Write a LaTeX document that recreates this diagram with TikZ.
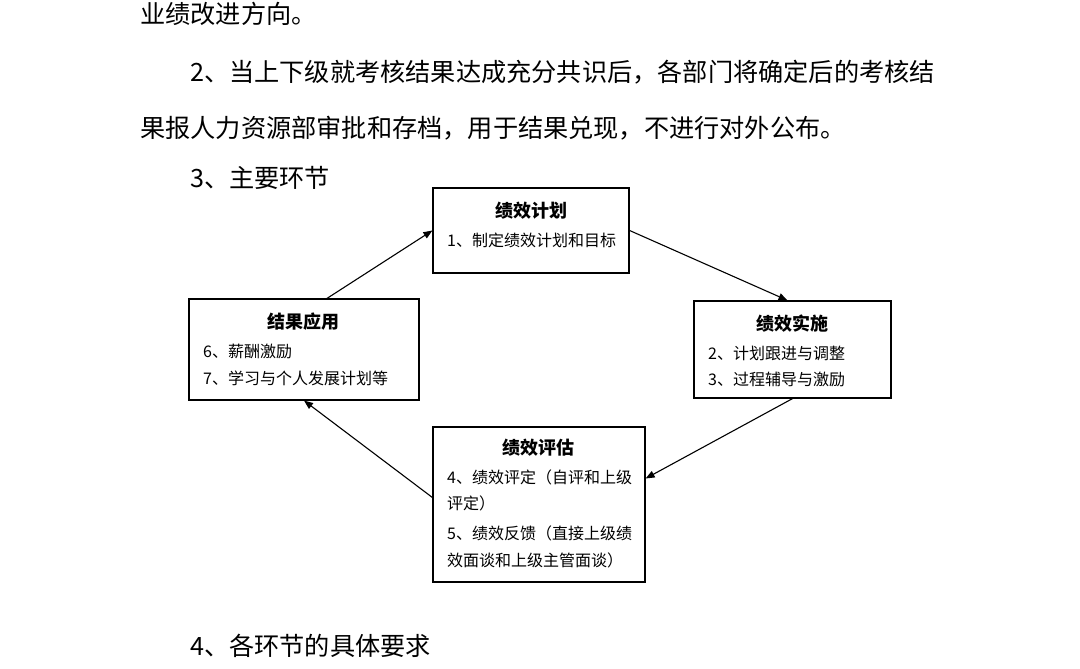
\documentclass[tikz,border=0pt]{standalone}
\usepackage{fontspec}
\setmainfont{Noto Sans CJK SC}
\usepackage{tikz}
\usetikzlibrary{arrows.meta}
\tikzset{
  bodytext/.style={anchor=west,inner sep=0pt,font=\fontsize{25.2}{30}\selectfont},
  stagebox/.style={draw,line width=1.2pt,inner sep=0pt},
  stagetitle/.style={inner sep=0pt,font=\fontsize{18}{22}\selectfont\bfseries},
  stageitem/.style={anchor=west,inner sep=0pt,font=\fontsize{16}{20}\selectfont},
  cyclearrow/.style={-{Triangle[length=9pt,width=7pt]},line width=1.1pt}
}

\begin{document}
\begin{tikzpicture}[x=1pt,y=-1pt]
  \fill[white] (0,0) rectangle (1080,669);
  \useasboundingbox (0,0) rectangle (1080,669);
  % running text around the cycle
  \node[bodytext] (para1) at (140,14) {业绩改进方向。};
  \node[bodytext] (para2) at (190,72) {2、当上下级就考核结果达成充分共识后，各部门将确定后的考核结};
  \node[bodytext] (para3) at (140,128) {果报人力资源部审批和存档，用于结果兑现，不进行对外公布。};
  \node[bodytext] (head3) at (190,178) {3、主要环节};
  \node[bodytext] (head4) at (190,646) {4、各环节的具体要求};

  % four stages
  \node[stagebox,minimum width=196pt,minimum height=85pt] (plan) at (531,230.5) {};
  \node[stagebox,minimum width=230pt,minimum height=101pt] (apply) at (304,349.5) {};
  \node[stagebox,minimum width=197pt,minimum height=97pt] (impl) at (792.5,349.5) {};
  \node[stagebox,minimum width=212pt,minimum height=155pt] (eval) at (539,504.5) {};

  \node[stagetitle] (plant) at (531,211) {绩效计划};
  \node[stageitem] (plan1) at (447,240) {1、制定绩效计划和目标};

  \node[stagetitle] (applyt) at (303,322) {结果应用};
  \node[stageitem] (apply1) at (203,351) {6、薪酬激励};
  \node[stageitem] (apply2) at (203,378) {7、学习与个人发展计划等};

  \node[stagetitle] (implt) at (792,324) {绩效实施};
  \node[stageitem] (impl1) at (708,353) {2、计划跟进与调整};
  \node[stageitem] (impl2) at (708,379) {3、过程辅导与激励};

  \node[stagetitle] (evalt) at (538,448) {绩效评估};
  \node[stageitem] (eval1) at (447,477) {4、绩效评定（自评和上级};
  \node[stageitem] (eval2) at (447,503) {评定）};
  \node[stageitem] (eval3) at (447,533) {5、绩效反馈（直接上级绩};
  \node[stageitem] (eval4) at (447,560) {效面谈和上级主管面谈）};

  \draw[cyclearrow] ([xshift=23pt]apply.north) -- (plan.west);
  \draw[cyclearrow] (plan.east) -- ([xshift=-5pt]impl.north);
  \draw[cyclearrow] (impl.south) -- ([yshift=26pt]eval.east);
  \draw[cyclearrow] ([yshift=7pt]eval.west) -- (apply.south);
\end{tikzpicture}
\end{document}
